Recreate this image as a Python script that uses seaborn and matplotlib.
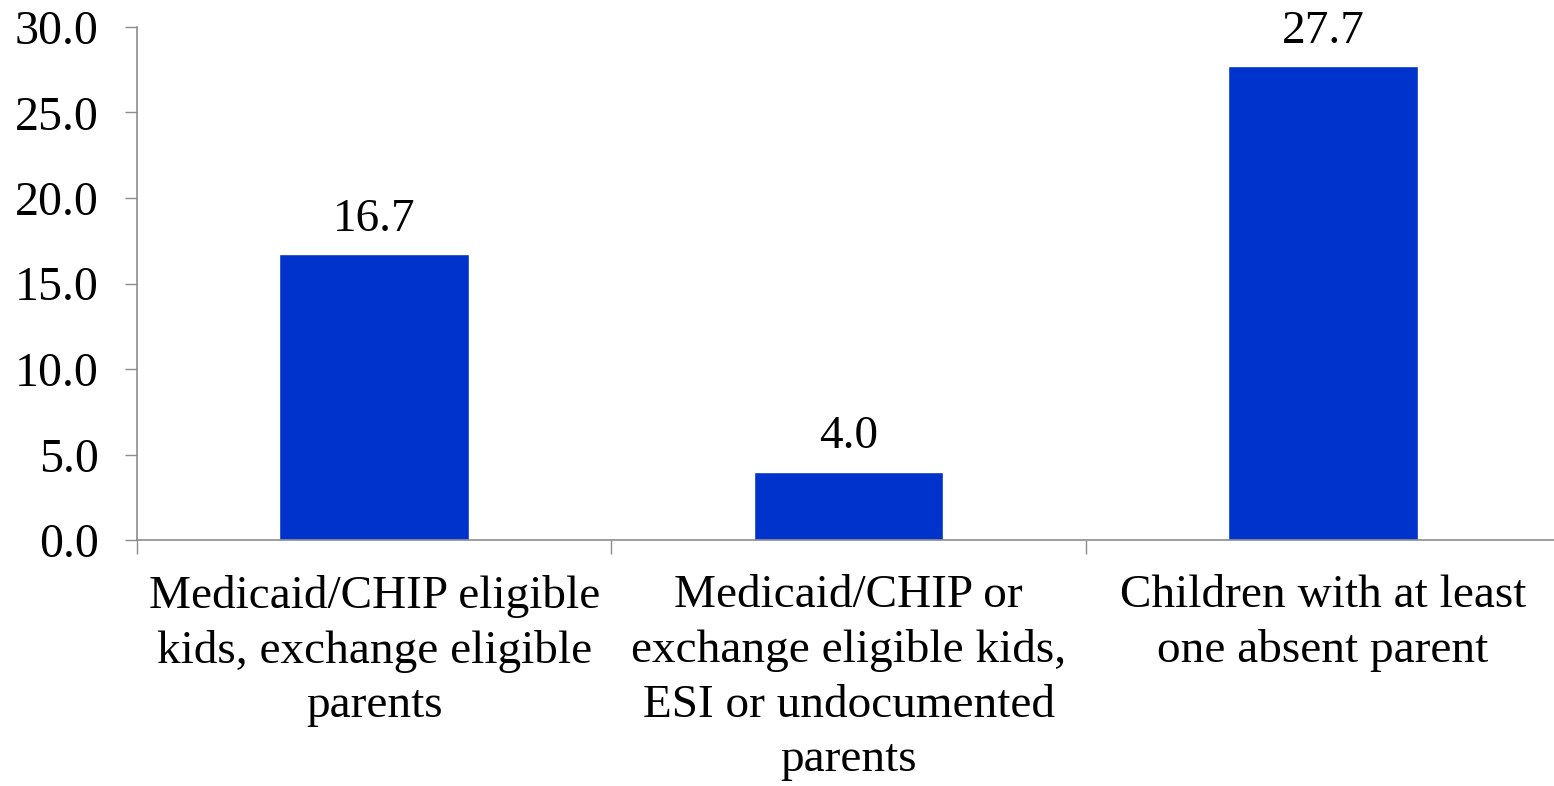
import matplotlib
matplotlib.use("Agg")
import matplotlib.pyplot as plt
import seaborn as sns
import pandas as pd

categories = [
    "Medicaid/CHIP eligible\nkids, exchange eligible\nparents",
    "Medicaid/CHIP or\nexchange eligible kids,\nESI or undocumented\nparents",
    "Children with at least\none absent parent",
]
values = [16.7, 4.0, 27.7]
y_ticks = [0, 5, 10, 15, 20, 25, 30]

sns.set_theme(style="white")
plt.rcParams["font.family"] = ["Liberation Serif", "DejaVu Serif"]

df = pd.DataFrame({"cat": categories, "val": values})

fig = plt.figure(figsize=(15.54, 7.86), dpi=100)
ax = fig.add_axes([137 / 1554, 1 - 540 / 786, 1 - 137 / 1554 + 0.004, (540 - 27) / 786])

sns.barplot(data=df, x="cat", y="val", color="#0033CC", width=0.4, saturation=1, ax=ax)

for i, v in enumerate(values):
    ax.text(i, v + 0.8, f"{v:.1f}", ha="center", va="bottom", fontsize=34, color="black")

ax.set_ylim(0, 30)
ax.set_xlim(-0.5, 2.5)
ax.set_yticks(y_ticks)
ax.set_yticklabels([f"{t:.1f}" for t in y_ticks], fontsize=34.5)
ax.set_xticks(range(len(categories)))
ax.set_xticklabels(categories, fontsize=34, linespacing=1.37)
ax.set_xlabel("")
ax.set_ylabel("")

ax.set_xticks([-0.5, 0.5, 1.5, 2.5], minor=True)
ax.tick_params(axis="x", which="major", length=0, pad=25, colors="black")
ax.tick_params(axis="x", which="minor", length=10, width=1, color="#8c8c8c", direction="out", bottom=True)
ax.tick_params(axis="y", which="major", length=8.5, width=1, color="#8c8c8c", direction="out", left=True, pad=19, labelcolor="black")

for s in ["top", "right"]:
    ax.spines[s].set_visible(False)
for s in ["left", "bottom"]:
    ax.spines[s].set_color("#8c8c8c")
    ax.spines[s].set_linewidth(1.2)
ax.grid(False)

fig.savefig("out.png", dpi=100)
